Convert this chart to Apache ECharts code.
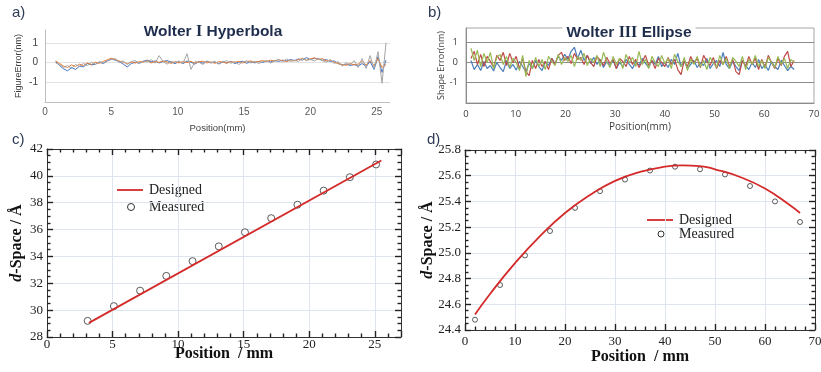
<!DOCTYPE html>
<html><head><meta charset="utf-8">
<script src="https://cdn.jsdelivr.net/npm/echarts@6/dist/echarts.min.js"></script>
<style>html,body{margin:0;padding:0;background:#fff}#c{width:821px;height:372px}</style>
</head><body><div id="c"></div>
<script>
// ---------- DATA ----------
// a) Wolter I hyperbola figure error (nm), sampled from 0.8 mm every 0.3 mm
const aStart = 0.8, aStep = 0.3;
const aBlue = [0.05,-0.15,-0.32,-0.42,-0.25,-0.35,-0.18,-0.22,-0.05,-0.12,
 -0.08,0.02,-0.05,0.08,0.18,0.12,0.05,-0.08,-0.22,-0.05,
 0.02,-0.04,0.06,0.12,0.04,0.08,-0.02,0.05,0.1,0.02,
 -0.05,0.04,-0.06,0.08,0.02,-0.08,0.05,-0.04,0.06,-0.02,
 0.03,-0.06,0.05,-0.03,0.06,-0.05,0.02,0.07,-0.04,0.04,
 -0.02,0.05,0.0,0.08,0.03,0.1,0.06,0.12,0.08,0.15,
 0.1,0.18,0.12,0.25,0.15,0.22,0.18,0.12,0.15,0.05,
 0.08,-0.05,-0.12,-0.08,-0.15,-0.1,-0.18,-0.05,-0.2,0.05,
 -0.35,0.3,-0.5,0.12];
const aOrange = [0.08,-0.05,-0.18,-0.25,-0.12,-0.2,-0.08,-0.15,-0.02,-0.1,
 0.02,-0.04,0.06,0.14,0.22,0.15,0.08,0.02,-0.06,0.03,
 -0.03,0.05,0.02,0.09,-0.02,0.06,0.01,0.08,0.03,-0.04,
 0.04,-0.02,0.05,0.0,0.06,-0.03,0.04,0.07,-0.02,0.03,
 -0.04,0.05,0.02,-0.03,0.04,0.01,0.06,-0.02,0.05,0.08,
 0.02,0.06,0.1,0.04,0.12,0.07,0.14,0.1,0.05,0.12,
 0.08,0.15,0.2,0.12,0.18,0.24,0.15,0.2,0.08,0.12,
 0.02,-0.06,-0.1,-0.14,-0.05,-0.12,-0.08,0.06,-0.12,0.1,
 -0.15,0.2,-0.25,-0.1];
const aGray = [-0.02,-0.1,-0.25,-0.15,-0.3,-0.1,-0.2,-0.05,-0.15,0.02,
 -0.1,0.05,-0.02,0.1,0.15,0.2,0.0,0.08,-0.1,0.05,
 0.1,-0.05,0.08,0.02,0.15,-0.03,0.35,0.05,-0.08,0.06,
 0.0,0.08,-0.05,0.45,-0.35,0.05,0.02,-0.1,0.08,0.0,
 0.06,-0.08,0.02,0.1,-0.04,0.05,-0.1,0.03,0.08,-0.02,
 0.06,-0.05,0.04,0.1,-0.02,0.08,0.15,0.04,0.18,0.06,
 0.12,0.05,0.22,0.1,0.16,0.08,0.2,0.1,0.02,0.15,
 -0.05,0.05,-0.18,0.0,-0.12,0.1,-0.25,0.2,-0.3,0.35,
 -0.3,0.55,-1.05,1.0];

// b) Wolter III ellipse shape error (nm), sampled from 1 mm every 0.65 mm
const bStart = 1.0, bStep = 0.65;
const bBlue = [0.1,-0.35,-0.1,-0.4,0.05,-0.3,-0.15,-0.42,0.0,-0.25,
 -0.45,0.1,-0.3,-0.1,-0.38,0.05,-0.2,-0.45,-0.05,-0.3,
 0.1,-0.2,-0.4,0.05,-0.15,0.2,-0.05,0.3,0.1,0.4,
 0.15,0.55,0.75,0.2,0.6,0.1,0.35,-0.05,0.25,-0.1,
 0.15,-0.25,0.05,-0.15,0.1,-0.3,0.0,-0.2,0.15,-0.1,
 -0.3,0.05,-0.15,0.2,-0.05,-0.25,0.1,-0.1,0.3,-0.2,
 0.0,-0.25,0.15,-0.1,0.45,-0.2,0.05,-0.3,-0.1,0.1,
 -0.25,0.0,-0.15,0.2,-0.3,-0.05,0.1,-0.2,0.5,-0.1,
 -0.3,0.05,-0.2,-0.4,0.1,-0.15,-0.35,0.0,-0.25,0.15,
 -0.3,-0.1,-0.4,0.05,-0.2,-0.35,0.1,-0.15,-0.4,-0.2,
 -0.35];
const bRed = [0.2,0.55,-0.1,0.4,-0.2,0.3,0.05,-0.25,0.35,0.1,
 0.5,-0.15,0.45,0.0,0.3,-0.3,0.2,-0.45,-0.65,0.1,
 -0.3,0.15,-0.2,0.05,-0.35,0.2,-0.1,0.35,0.5,0.1,
 0.3,-0.05,0.45,0.15,0.25,-0.1,0.35,0.0,-0.2,0.3,
 0.1,-0.15,0.25,-0.05,0.15,-0.3,0.2,0.05,-0.2,0.3,
 -0.1,0.15,-0.25,0.05,0.35,-0.15,0.1,-0.3,0.2,0.0,
 -0.2,0.25,-0.1,0.15,-0.35,-0.6,0.1,-0.2,0.3,-0.05,
 0.2,-0.25,0.35,0.05,-0.15,0.25,-0.3,0.1,-0.1,0.3,
 -0.2,0.15,-0.45,-0.6,0.1,-0.2,0.3,-0.1,0.2,-0.35,
 0.15,-0.25,0.35,0.0,-0.3,0.2,-0.15,0.3,0.55,-0.2,
 0.1];
const bGreen = [0.7,0.1,0.6,-0.2,0.45,0.0,0.5,-0.3,0.25,0.4,
 -0.1,0.3,-0.25,0.2,0.0,-0.4,0.35,-0.7,0.1,-0.3,
 0.25,-0.2,0.15,-0.35,0.3,0.05,-0.15,0.4,-0.1,0.25,
 0.05,0.35,-0.2,0.3,0.1,0.45,-0.15,0.2,0.0,0.35,
 -0.2,0.5,0.05,-0.25,0.3,-0.1,0.2,-0.3,0.4,0.0,
 0.25,-0.2,0.55,-0.1,0.15,-0.3,0.3,0.0,-0.2,0.35,
 -0.05,0.2,-0.3,0.4,0.05,-0.2,0.25,-0.4,0.15,-0.1,
 0.3,-0.2,0.1,-0.35,0.25,0.0,-0.25,0.35,-0.1,0.2,
 -0.3,0.25,0.05,-0.2,0.3,-0.35,0.15,-0.1,0.35,-0.2,
 0.1,-0.3,0.25,0.0,-0.25,0.3,-0.1,0.2,-0.3,0.15,
 0.0];

// c) Wolter I d-spacing (Å) vs position (mm)
const cDesignedPos = [3.2, 25.5];
const cDesignedD = [29.05, 41.15];
const cMeasuredPos = [3.1,5.1,7.1,9.1,11.1,13.1,15.1,17.1,19.1,21.1,23.1,25.1];
const cMeasuredD = [29.2,30.3,31.45,32.55,33.65,34.75,35.8,36.85,37.85,38.9,39.9,40.85];

// d) Wolter III d-spacing (Å) vs position (mm)
const dDesignedPos = [2,5,10,15,20,25,30,35,40,43.5,47,50,55,60,65,67];
const dDesignedD = [24.52,24.68,24.92,25.13,25.31,25.45,25.56,25.63,25.67,25.68,25.675,25.65,25.59,25.50,25.37,25.31];
const dMeasuredPos = [2,7,12,17,22,27,32,37,42,47,52,57,62,67];
const dMeasuredD = [24.48,24.75,24.98,25.17,25.35,25.48,25.57,25.64,25.67,25.65,25.61,25.52,25.40,25.24];

// tick labels
const aXTicks = [0,5,10,15,20,25];
const abYTicks = [-1,0,1];

// ---------- BUILD ----------
const profile = (arr, x0, step) => arr.map((v, i) => [Math.round((x0 + step * i) * 100) / 100, v]);
const pairs = (xs, ys) => xs.map((x, i) => [x, ys[i]]);

const SANS = '"Liberation Sans", Arial, sans-serif';
const OPEN = '"Open Sans", sans-serif';
const SERIF = '"Liberation Serif", "Times New Roman", serif';
const RED = '#d42a2a';
const FRAME = '#333';

const rectC = { left: 47, top: 149, width: 354, height: 188 };
const rectD = { left: 465, top: 150, width: 350, height: 180 };
const noBounds = { containLabel: false, outerBoundsMode: 'none' };

// axis carrying the frame line + labels (no ticks)
function labelAxis(base) {
  return Object.assign({
    type: 'value', z: 3,
    axisLine: { show: true, onZero: false, lineStyle: { color: FRAME, width: 1 } },
    axisTick: { show: false }, minorTick: { show: false },
    splitLine: { show: false }
  }, base);
}
// axis drawn on the opposite edge so its outward ticks point into the plot
function tickAxis(base, showLine, minorSplit) {
  return Object.assign({
    type: 'value', z: 3,
    axisLine: { show: showLine, onZero: false, lineStyle: { color: FRAME, width: 1 } },
    axisTick: { show: true, inside: false, length: 6, lineStyle: { color: '#222', width: 1.4 } },
    minorTick: { show: true, splitNumber: minorSplit, length: 3.5, lineStyle: { color: '#222', width: 1.4 } },
    axisLabel: { show: false },
    splitLine: { show: false }
  }, base);
}
function gridAxis(base) {
  return Object.assign({
    type: 'value', z: 0,
    axisLine: { show: false }, axisTick: { show: false }, axisLabel: { show: false }, minorTick: { show: false },
    splitLine: { show: true, showMinLine: false, showMaxLine: false, lineStyle: { color: '#dfe5ee', width: 1 } }
  }, base);
}
const serifLabel = (extra) => Object.assign({ show: true, fontFamily: SERIF, fontSize: 13, color: '#222', margin: 5 }, extra || {});
const boldSerifName = { fontFamily: SERIF, fontWeight: 'bold', fontSize: 16, color: '#111' };
const dSpaceName = {
  fontFamily: SERIF, fontWeight: 'bold', fontSize: 16, color: '#111',
  rich: {
    i: { fontFamily: SERIF, fontWeight: 'bold', fontStyle: 'italic', fontSize: 16, color: '#111' },
    n: { fontFamily: SERIF, fontWeight: 'bold', fontSize: 16, color: '#111' }
  }
};

const cX = { min: 0, max: 27, interval: 5 };
const cY = { min: 28, max: 42, interval: 2 };
const dX = { min: 0, max: 70, interval: 10 };
const dY = { min: 24.4, max: 25.8, interval: 0.2 };

const option = {
  animation: false,
  backgroundColor: '#fff',
  grid: [
    Object.assign({ left: 45, top: 30, width: 345, height: 72 }, noBounds),
    Object.assign({ left: 466, top: 28, width: 348, height: 75,
      show: true, borderColor: '#a6a6a6', borderWidth: 1, backgroundColor: 'transparent' }, noBounds),
    Object.assign({}, rectC, noBounds),
    Object.assign({}, rectD, noBounds),
    Object.assign({}, rectC, noBounds),
    Object.assign({}, rectD, noBounds)
  ],
  xAxis: [
    { gridIndex: 0, type: 'value', min: 0, max: 26, interval: 5,
      axisLine: { show: true, onZero: false, lineStyle: { color: '#bfbfbf' } }, axisTick: { show: false },
      splitLine: { show: false },
      axisLabel: { fontFamily: SANS, fontSize: 10, color: '#595959', margin: 5,
        formatter: v => aXTicks.indexOf(v) >= 0 ? String(v) : '' },
      name: 'Position(mm)', nameLocation: 'middle', nameGap: 21,
      nameTextStyle: { fontFamily: SANS, fontSize: 9.5, color: '#404040' } },
    { gridIndex: 1, type: 'value', min: 0, max: 70, interval: 10,
      axisLine: { show: true, onZero: false, lineStyle: { color: '#8c8c8c' } }, axisTick: { show: false },
      splitLine: { show: false },
      axisLabel: { fontFamily: OPEN, fontSize: 9.5, color: '#404040', margin: 6 },
      name: 'Position(mm)', nameLocation: 'middle', nameGap: 19,
      nameTextStyle: { fontFamily: OPEN, fontSize: 10, color: '#404040' } },
    labelAxis(Object.assign({ gridIndex: 2, position: 'bottom',
      axisLabel: serifLabel({ margin: 1, formatter: v => v % 5 === 0 ? String(v) : '' }),
      name: 'Position  / mm', nameLocation: 'middle', nameGap: 9, nameMoveOverlap: false, nameTextStyle: boldSerifName }, cX)),
    tickAxis(Object.assign({ gridIndex: 2, position: 'top', offset: -rectC.height }, cX), false, 5),
    tickAxis(Object.assign({ gridIndex: 2, position: 'bottom', offset: -rectC.height }, cX), true, 5),
    labelAxis(Object.assign({ gridIndex: 3, position: 'bottom',
      axisLabel: serifLabel(),
      name: 'Position  / mm', nameLocation: 'middle', nameGap: 19, nameMoveOverlap: false, nameTextStyle: boldSerifName }, dX)),
    tickAxis(Object.assign({ gridIndex: 3, position: 'top', offset: -rectD.height }, dX), false, 5),
    tickAxis(Object.assign({ gridIndex: 3, position: 'bottom', offset: -rectD.height }, dX), true, 5),
    gridAxis(Object.assign({ gridIndex: 4 }, cX)),
    gridAxis(Object.assign({ gridIndex: 5 }, dX))
  ],
  yAxis: [
    { gridIndex: 0, type: 'value', min: -2, max: 1.65, interval: 1,
      axisLine: { show: true, onZero: false, lineStyle: { color: '#bfbfbf' } }, axisTick: { show: false },
      splitLine: { show: true, showMinLine: false, showMaxLine: false, lineStyle: { color: '#e3e3e3' } },
      axisLabel: { fontFamily: SANS, fontSize: 10, color: '#404040', margin: 7,
        formatter: v => abYTicks.indexOf(v) >= 0 ? String(v) : '' },
      name: 'FigureError(nm)', nameLocation: 'middle', nameGap: 22,
      nameTextStyle: { fontFamily: SANS, fontSize: 9, color: '#404040' } },
    { gridIndex: 1, type: 'value', min: -2, max: 1.7, interval: 1,
      axisLine: { show: true, onZero: false, lineStyle: { color: '#8c8c8c' } }, axisTick: { show: false },
      splitLine: { show: true, showMinLine: false, showMaxLine: false, lineStyle: { color: '#8c8c8c' } },
      axisLabel: { fontFamily: OPEN, fontSize: 9.5, color: '#404040', margin: 8,
        formatter: v => abYTicks.indexOf(v) >= 0 ? String(v) : '' },
      name: 'Shape Error(nm)', nameLocation: 'middle', nameGap: 19,
      nameTextStyle: { fontFamily: OPEN, fontSize: 9, color: '#404040' } },
    labelAxis(Object.assign({ gridIndex: 2, position: 'left',
      axisLabel: serifLabel({ margin: 4 }),
      name: '{i|d}{n|-Space / Å}', nameLocation: 'middle', nameGap: 22, nameMoveOverlap: false, nameTextStyle: dSpaceName }, cY)),
    tickAxis(Object.assign({ gridIndex: 2, position: 'right', offset: -rectC.width }, cY), false, 4),
    tickAxis(Object.assign({ gridIndex: 2, position: 'left', offset: -rectC.width }, cY), true, 4),
    labelAxis(Object.assign({ gridIndex: 3, position: 'left',
      axisLabel: serifLabel({ margin: 4, formatter: v => v.toFixed(1) }),
      name: '{i|d}{n|-Space / Å}', nameLocation: 'middle', nameGap: 29, nameMoveOverlap: false, nameTextStyle: dSpaceName }, dY)),
    tickAxis(Object.assign({ gridIndex: 3, position: 'right', offset: -rectD.width }, dY), false, 4),
    tickAxis(Object.assign({ gridIndex: 3, position: 'left', offset: -rectD.width }, dY), true, 4),
    gridAxis(Object.assign({ gridIndex: 4 }, cY)),
    gridAxis(Object.assign({ gridIndex: 5 }, dY))
  ],
  series: [
    { type: 'line', xAxisIndex: 0, yAxisIndex: 0, data: profile(aBlue, aStart, aStep), showSymbol: false, lineStyle: { color: '#4472c4', width: 1 } },
    { type: 'line', xAxisIndex: 0, yAxisIndex: 0, data: profile(aOrange, aStart, aStep), showSymbol: false, lineStyle: { color: '#ed7d31', width: 1 } },
    { type: 'line', xAxisIndex: 0, yAxisIndex: 0, data: profile(aGray, aStart, aStep), showSymbol: false, lineStyle: { color: '#a5a5a5', width: 1 } },
    { type: 'line', xAxisIndex: 1, yAxisIndex: 1, data: profile(bBlue, bStart, bStep), showSymbol: false, lineStyle: { color: '#4a7ebb', width: 1.2 } },
    { type: 'line', xAxisIndex: 1, yAxisIndex: 1, data: profile(bRed, bStart, bStep), showSymbol: false, lineStyle: { color: '#be4b48', width: 1.2 } },
    { type: 'line', xAxisIndex: 1, yAxisIndex: 1, data: profile(bGreen, bStart, bStep), showSymbol: false, lineStyle: { color: '#98b954', width: 1.2 } },
    { name: 'Designed', type: 'line', xAxisIndex: 2, yAxisIndex: 2, data: pairs(cDesignedPos, cDesignedD), symbol: 'none', lineStyle: { color: RED, width: 1.8 } },
    { name: 'Measured', type: 'scatter', xAxisIndex: 2, yAxisIndex: 2, data: pairs(cMeasuredPos, cMeasuredD), symbol: 'circle', symbolSize: 7,
      itemStyle: { color: '#fff', borderColor: '#333', borderWidth: 1 } },
    { name: 'Designed', type: 'line', xAxisIndex: 5, yAxisIndex: 5, data: pairs(dDesignedPos, dDesignedD), symbol: 'none', smooth: true, lineStyle: { color: RED, width: 1.8 } },
    { name: 'Measured', type: 'scatter', xAxisIndex: 5, yAxisIndex: 5, data: pairs(dMeasuredPos, dMeasuredD), symbol: 'circle', symbolSize: 5,
      itemStyle: { color: '#fff', borderColor: '#333', borderWidth: 1 } }
  ],
  graphic: [
    { type: 'text', x: 12, y: 13, style: { text: 'a)', font: '15px ' + SANS, fill: '#2e3b55', verticalAlign: 'middle', textVerticalAlign: 'middle' } },
    { type: 'text', x: 428, y: 13, style: { text: 'b)', font: '15px ' + SANS, fill: '#2e3b55', verticalAlign: 'middle', textVerticalAlign: 'middle' } },
    { type: 'text', x: 12, y: 140, style: { text: 'c)', font: '15px ' + SANS, fill: '#2e3b55', verticalAlign: 'middle', textVerticalAlign: 'middle' } },
    { type: 'text', x: 427, y: 140, style: { text: 'd)', font: '15px ' + SANS, fill: '#2e3b55', verticalAlign: 'middle', textVerticalAlign: 'middle' } },
    { type: 'text', x: 213, y: 32, z: 100, style: { text: '{s|Wolter }{r|I}{s| Hyperbola}', align: 'center', verticalAlign: 'middle', textAlign: 'center', textVerticalAlign: 'middle',
        rich: { s: { fontFamily: SANS, fontWeight: 'bold', fontSize: 15.5, fill: '#1f2d4d' }, r: { fontFamily: SERIF, fontWeight: 'bold', fontSize: 16, fill: '#1f2d4d' } } } },
    { type: 'text', x: 629, y: 33, z: 100, style: { text: '{s|Wolter }{r|III}{s| Ellipse}', align: 'center', verticalAlign: 'middle', textAlign: 'center', textVerticalAlign: 'middle',
        backgroundColor: '#fff', padding: [1, 4],
        rich: { s: { fontFamily: SANS, fontWeight: 'bold', fontSize: 15.5, fill: '#1f2d4d' }, r: { fontFamily: SERIF, fontWeight: 'bold', fontSize: 16, fill: '#1f2d4d' } } } },
    // legend c
    { type: 'line', shape: { x1: 117, y1: 190, x2: 143, y2: 190 }, style: { stroke: RED, lineWidth: 1.8 } },
    { type: 'text', x: 149, y: 190, style: { text: 'Designed', font: '14px ' + SERIF, fill: '#222', verticalAlign: 'middle', textVerticalAlign: 'middle' } },
    { type: 'circle', shape: { cx: 131, cy: 207, r: 3.5 }, style: { fill: '#fff', stroke: '#333', lineWidth: 1 } },
    { type: 'text', x: 149, y: 207, style: { text: 'Measured', font: '14px ' + SERIF, fill: '#222', verticalAlign: 'middle', textVerticalAlign: 'middle' } },
    // legend d
    { type: 'line', shape: { x1: 647, y1: 220, x2: 673, y2: 220 }, style: { stroke: RED, lineWidth: 1.8 } },
    { type: 'text', x: 679, y: 220, style: { text: 'Designed', font: '14px ' + SERIF, fill: '#222', verticalAlign: 'middle', textVerticalAlign: 'middle' } },
    { type: 'circle', shape: { cx: 661, cy: 234, r: 3 }, style: { fill: '#fff', stroke: '#333', lineWidth: 1 } },
    { type: 'text', x: 679, y: 234, style: { text: 'Measured', font: '14px ' + SERIF, fill: '#222', verticalAlign: 'middle', textVerticalAlign: 'middle' } }
  ]
};

const chart = echarts.init(document.getElementById('c'), null, { renderer: 'canvas' });
chart.setOption(option);
</script>
</body></html>
